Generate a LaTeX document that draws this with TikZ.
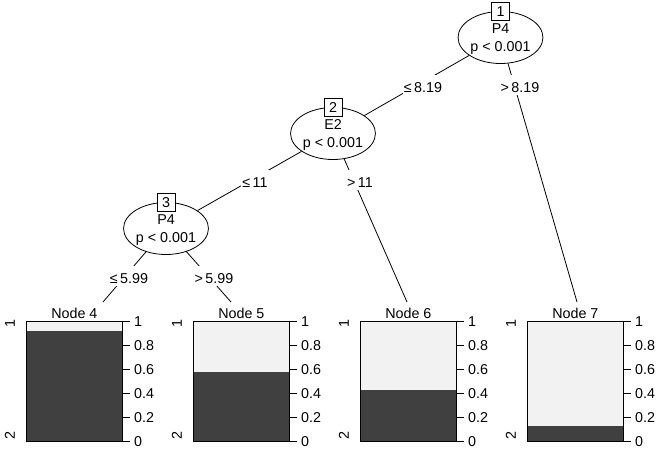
\documentclass[tikz,border=0pt]{standalone}
\usepackage{fontspec}
\setmainfont{Liberation Sans}
\usetikzlibrary{shapes, positioning, calc}
\definecolor{light}{HTML}{F2F2F2}
\definecolor{dark}{HTML}{404040}
\tikzset{
  split/.style={draw, ellipse, fill=white, minimum width=80pt, minimum height=52pt, inner sep=0pt, align=center, text depth=0pt},
  idbox/.style={draw, fill=white, minimum width=18pt, minimum height=18pt, inner sep=0pt},
  cut/.style={fill=white, inner xsep=1pt, inner ysep=2.5pt, text height=15pt, text depth=0pt, anchor=base},
  panel/.style={draw, fill=light, minimum width=96pt, minimum height=120pt, inner sep=0pt, anchor=north west},
  ticklab/.style={anchor=west, inner sep=0pt, text height=10.2pt, text depth=0pt}
}

\begin{document}
\begin{tikzpicture}[x=1pt, y=-1pt, line width=0.8pt, font=\fontsize{14.3}{17.5}\selectfont]
    \useasboundingbox (0,0) rectangle (664,450);

    \node[split] (n1) at (500.5,37.5) {P4\\p < 0.001};
    \node[idbox] at (n1.north) {1};
    \node[split] (n2) at (333,133.5) {E2\\p < 0.001};
    \node[idbox] at (n2.north) {2};
    \node[split] (n3) at (166,228.5) {P4\\p < 0.001};
    \node[idbox] at (n3.north) {3};

    \coordinate (e4) at (103,302);
    \coordinate (e5) at (231,302);
    \coordinate (e6) at (407,302);
    \coordinate (e7) at (577,302);

    \draw (n1) -- (n2);
    \draw (n1) -- (e7);
    \draw (n2) -- (n3);
    \draw (n2) -- (e6);
    \draw (n3) -- (e4);
    \draw (n3) -- (e5);

    \node[cut] (l12) at (423,92.5) {≤\,8.19};
    \node[cut] (l17) at (520,92.5) {>\,8.19};
    \node[cut] (l23) at (255,187.5) {≤\,11};
    \node[cut] (l26) at (360,187.5) {>\,11};
    \node[cut] (l34) at (129,283) {≤\,5.99};
    \node[cut] (l35) at (214,283) {>\,5.99};

    % terminal nodes
    \foreach \k/\x/\f in {4/26/0.925, 5/193/0.583, 6/360/0.433, 7/527/0.133}{
        \node[panel] (t\k) at (\x,321) {};
        \fill[dark] (t\k.south west) rectangle ++(96,-\f*120);
        \draw (t\k.south west) rectangle (t\k.north east);
        \node[anchor=base, inner sep=0pt] at ([yshift=3pt]t\k.north) {Node \k};
        \node[rotate=90, inner sep=0pt] at ([xshift=-16pt,yshift=-3pt]t\k.north west) {1};
        \node[rotate=90, inner sep=0pt] at ([xshift=-16pt,yshift=6pt]t\k.south west) {2};
        \foreach \v [count=\i from 0] in {0,0.2,0.4,0.6,0.8,1}
            \draw (t\k.south east) ++(0,-\i*24) -- ++(7,0) node[ticklab, xshift=4pt] {\v};
    }
\end{tikzpicture}
\end{document}
